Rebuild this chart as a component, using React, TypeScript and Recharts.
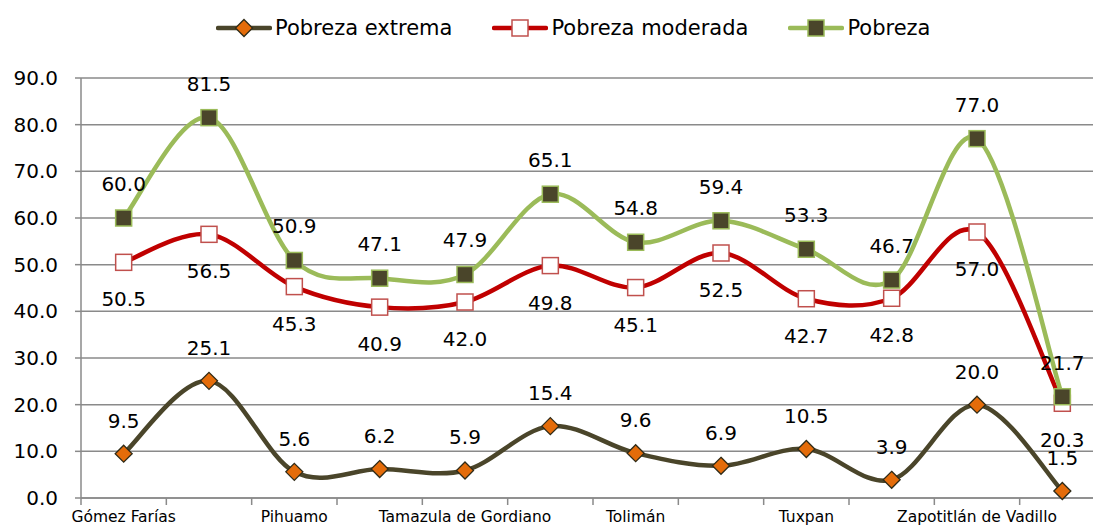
import React from "react";
import {
  CartesianGrid,
  LabelList,
  Legend,
  Line,
  LineChart,
  XAxis,
  YAxis,
} from "recharts";

const categories = [
  "Gómez Farías",
  "Jilotlán de los Dolores",
  "Pihuamo",
  "San Gabriel",
  "Tamazula de Gordiano",
  "Tecalitlán",
  "Tolimán",
  "Tonila",
  "Tuxpan",
  "Zapotiltic",
  "Zapotitlán de Vadillo",
  "Zapotlán el Grande",
];
const pobrezaExtrema = [9.5, 25.1, 5.6, 6.2, 5.9, 15.4, 9.6, 6.9, 10.5, 3.9, 20.0, 1.5];
const pobrezaModerada = [50.5, 56.5, 45.3, 40.9, 42.0, 49.8, 45.1, 52.5, 42.7, 42.8, 57.0, 20.3];
const pobreza = [60.0, 81.5, 50.9, 47.1, 47.9, 65.1, 54.8, 59.4, 53.3, 46.7, 77.0, 21.7];
const yTicks = [0, 10, 20, 30, 40, 50, 60, 70, 80, 90];
const legendOrder = ["extrema", "moderada", "pobreza"];

const data = categories.map((name, i) => ({
  name,
  extrema: pobrezaExtrema[i],
  moderada: pobrezaModerada[i],
  pobreza: pobreza[i],
}));

const FONT = "'DejaVu Sans', sans-serif";
const GRID = "#8a8a8a";
const CHART_W = 1105;
const Y_W = 81;
const BAND = (CHART_W - Y_W) / categories.length;

// excel-like smoothing (catmull-rom through every point)
const excelCurve = (context: any) => {
  let pts: number[][] = [];
  return {
    areaStart() {},
    areaEnd() {},
    lineStart() {
      pts = [];
    },
    point(x: number, y: number) {
      pts.push([+x, +y]);
    },
    lineEnd() {
      if (!pts.length) return;
      context.moveTo(pts[0][0], pts[0][1]);
      for (let i = 0; i < pts.length - 1; i++) {
        const p0 = pts[i - 1] || pts[i];
        const p1 = pts[i];
        const p2 = pts[i + 1];
        const p3 = pts[i + 2] || p2;
        context.bezierCurveTo(
          p1[0] + (p2[0] - p0[0]) / 6,
          p1[1] + (p2[1] - p0[1]) / 6,
          p2[0] - (p3[0] - p1[0]) / 6,
          p2[1] - (p3[1] - p1[1]) / 6,
          p2[0],
          p2[1]
        );
      }
    },
  };
};

const Diamond = ({ cx, cy, size = 8.5 }: any) => (
  <path
    d={`M${cx},${cy - size}L${cx + size},${cy}L${cx},${cy + size}L${cx - size},${cy}Z`}
    fill="#e46c0a"
    stroke="#2f2b18"
    strokeWidth={1.3}
  />
);

const Square = ({ cx, cy, fill, stroke, size = 8 }: any) => (
  <rect
    x={cx - size}
    y={cy - size}
    width={size * 2}
    height={size * 2}
    fill={fill}
    stroke={stroke}
    strokeWidth={1.5}
  />
);

const markers: any = {
  extrema: (cx: number, cy: number) => <Diamond cx={cx} cy={cy} />,
  moderada: (cx: number, cy: number) => (
    <Square cx={cx} cy={cy} fill="#ffffff" stroke="#c0504d" />
  ),
  pobreza: (cx: number, cy: number) => (
    <Square cx={cx} cy={cy} fill="#4a452a" stroke="#9bbb59" />
  ),
};

const makeLabel = (dy: number) => (props: any) => {
  const { x, y, value, index } = props;
  return (
    <text
      key={`lbl-${index}`}
      x={x}
      y={y + dy}
      textAnchor="middle"
      dominantBaseline="central"
      fontSize={20}
      fontFamily={FONT}
      fill="#000"
    >
      {Number(value).toFixed(1)}
    </text>
  );
};

const XTick = ({ x, y, payload, index }: any) => (
  <g>
    <line x1={x - BAND / 2} x2={x - BAND / 2} y1={y} y2={y + 7} stroke={GRID} strokeWidth={1.5} />
    {index % 2 === 0 && (
      <text
        x={x}
        y={y + 19}
        textAnchor="middle"
        dominantBaseline="central"
        fontSize={15.5}
        fontFamily={FONT}
        fill="#000"
      >
        {payload.value}
      </text>
    )}
  </g>
);

const LegendContent = ({ payload }: any) => {
  const items = [...(payload ?? [])].sort(
    (a: any, b: any) => legendOrder.indexOf(a.dataKey) - legendOrder.indexOf(b.dataKey)
  );
  return (
    <div
      style={{
        height: 78,
        display: "flex",
        alignItems: "flex-start",
        paddingLeft: 216,
        paddingTop: 15,
        boxSizing: "border-box",
        fontFamily: FONT,
        fontSize: 21,
        gap: 40,
      }}
    >
      {items.map((entry: any) => (
        <div key={entry.dataKey} style={{ display: "flex", alignItems: "center" }}>
          <svg width={56} height={26}>
            <line x1={2} x2={54} y1={13} y2={13} stroke={entry.color} strokeWidth={4.5} strokeLinecap="round" />
            {markers[entry.dataKey](28, 13)}
          </svg>
          <span style={{ marginLeft: 3, color: "#000" }}>{entry.value}</span>
        </div>
      ))}
    </div>
  );
};

const App = () => {
  return (
    <div
      style={{
        position: "absolute",
        left: 0,
        top: 0,
        width: 1093,
        height: 527,
        overflow: "hidden",
        background: "#fff",
      }}
    >
      <LineChart
        width={CHART_W}
        height={545}
        data={data}
        margin={{ top: 0, right: 0, left: 0, bottom: 0 }}
        style={{ fontFamily: FONT }}
      >
        <Legend verticalAlign="top" align="left" content={<LegendContent />} />
        <CartesianGrid vertical={false} stroke={GRID} strokeWidth={1.5} />
        <XAxis
          dataKey="name"
          scale="band"
          interval={0}
          height={47}
          tickSize={0}
          tickMargin={0}
          axisLine={{ stroke: GRID, strokeWidth: 1.5 }}
          tick={<XTick />}
        />
        <YAxis
          width={Y_W}
          domain={[0, 90]}
          ticks={yTicks}
          tickSize={6}
          tickMargin={17}
          tickFormatter={(v: number) => v.toFixed(1)}
          axisLine={{ stroke: GRID, strokeWidth: 1.5 }}
          tickLine={{ stroke: GRID, strokeWidth: 1.5 }}
          tick={{ fill: "#000", fontSize: 20, fontFamily: FONT }}
        />
        <Line
          dataKey="extrema"
          name="Pobreza extrema"
          type={excelCurve as any}
          stroke="#4a452a"
          strokeWidth={4.5}
          isAnimationActive={false}
          dot={(p: any) => <g key={`d1-${p.index}`}>{markers.extrema(p.cx, p.cy)}</g>}
          activeDot={false}
        >
          <LabelList dataKey="extrema" content={makeLabel(-33)} />
        </Line>
        <Line
          dataKey="moderada"
          name="Pobreza moderada"
          type={excelCurve as any}
          stroke="#c00000"
          strokeWidth={4.5}
          isAnimationActive={false}
          dot={(p: any) => <g key={`d2-${p.index}`}>{markers.moderada(p.cx, p.cy)}</g>}
          activeDot={false}
        >
          <LabelList dataKey="moderada" content={makeLabel(37)} />
        </Line>
        <Line
          dataKey="pobreza"
          name="Pobreza"
          type={excelCurve as any}
          stroke="#9bbb59"
          strokeWidth={4.5}
          isAnimationActive={false}
          dot={(p: any) => <g key={`d3-${p.index}`}>{markers.pobreza(p.cx, p.cy)}</g>}
          activeDot={false}
        >
          <LabelList dataKey="pobreza" content={makeLabel(-34)} />
        </Line>
      </LineChart>
    </div>
  );
};

export default App;
